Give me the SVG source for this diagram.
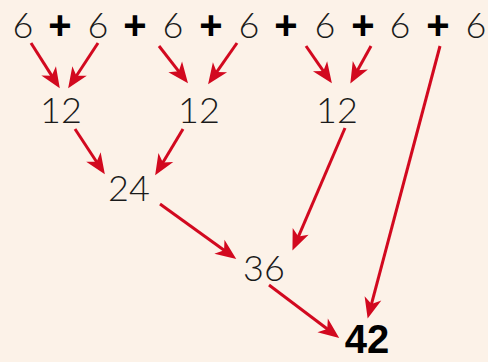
<svg xmlns="http://www.w3.org/2000/svg" width="488" height="362" viewBox="0 0 488 362">
<style>
.n{font-family:Lato,"DejaVu Sans",sans-serif;font-weight:300;font-size:36px;fill:#1a1a1a;text-anchor:middle}
.p{font-family:"Liberation Sans",Arial,sans-serif;font-weight:bold;font-size:40px;fill:#000;text-anchor:middle}
.r{font-family:"Liberation Sans",Arial,sans-serif;font-weight:bold;font-size:40px;fill:#000;text-anchor:middle}
.c line{stroke:#D2091F;stroke-width:3;marker-end:url(#ah)}
</style>
<defs>
<marker id="ah" markerUnits="userSpaceOnUse" markerWidth="30" markerHeight="30" refX="0" refY="0" viewBox="-12 -10 26 20" orient="auto" overflow="visible">
<path d="M10,0 L-8,-7.5 L-3,0 L-8,7.5 Z" fill="#D2091F"/>
</marker>
</defs>
<rect width="488" height="362" fill="#FCF2E8"/>
<g id="top">
<text class="n" x="23" y="38">6</text>
<text class="p" x="60" y="39">+</text>
<text class="n" x="98" y="38">6</text>
<text class="p" x="135" y="39">+</text>
<text class="n" x="173" y="38">6</text>
<text class="p" x="211" y="39">+</text>
<text class="n" x="249" y="38">6</text>
<text class="p" x="286" y="39">+</text>
<text class="n" x="325" y="38">6</text>
<text class="p" x="363" y="39">+</text>
<text class="n" x="400" y="38">6</text>
<text class="p" x="438" y="39">+</text>
<text class="n" x="476" y="38">6</text>
</g>
<g id="n12a"><text class="n" x="61" y="123">12</text></g>
<g id="n12b"><text class="n" x="199" y="123">12</text></g>
<g id="n12c"><text class="n" x="337" y="123">12</text></g>
<g id="n24"><text class="n" x="129" y="201">24</text></g>
<g id="n36"><text class="n" x="264" y="281">36</text></g>
<g id="n42"><text class="r" x="367" y="353">42</text></g>
<g class="c" id="connectors">
<line x1="31" y1="43" x2="53.6" y2="78.6"/>
<line x1="98" y1="43" x2="74.5" y2="78.7"/>
<line x1="159" y1="46" x2="180.9" y2="74.1"/>
<line x1="237" y1="43" x2="214.7" y2="74.8"/>
<line x1="306" y1="46" x2="325.3" y2="73.8"/>
<line x1="371" y1="46" x2="355.9" y2="73.3"/>
<line x1="440" y1="46" x2="370.6" y2="307.3"/>
<line x1="75" y1="129" x2="98.5" y2="164.7"/>
<line x1="183" y1="129" x2="161.1" y2="165.4"/>
<line x1="160" y1="204" x2="226.9" y2="252.2"/>
<line x1="345" y1="128" x2="297" y2="239.8"/>
<line x1="269" y1="285" x2="330" y2="331"/>
</g>
</svg>
